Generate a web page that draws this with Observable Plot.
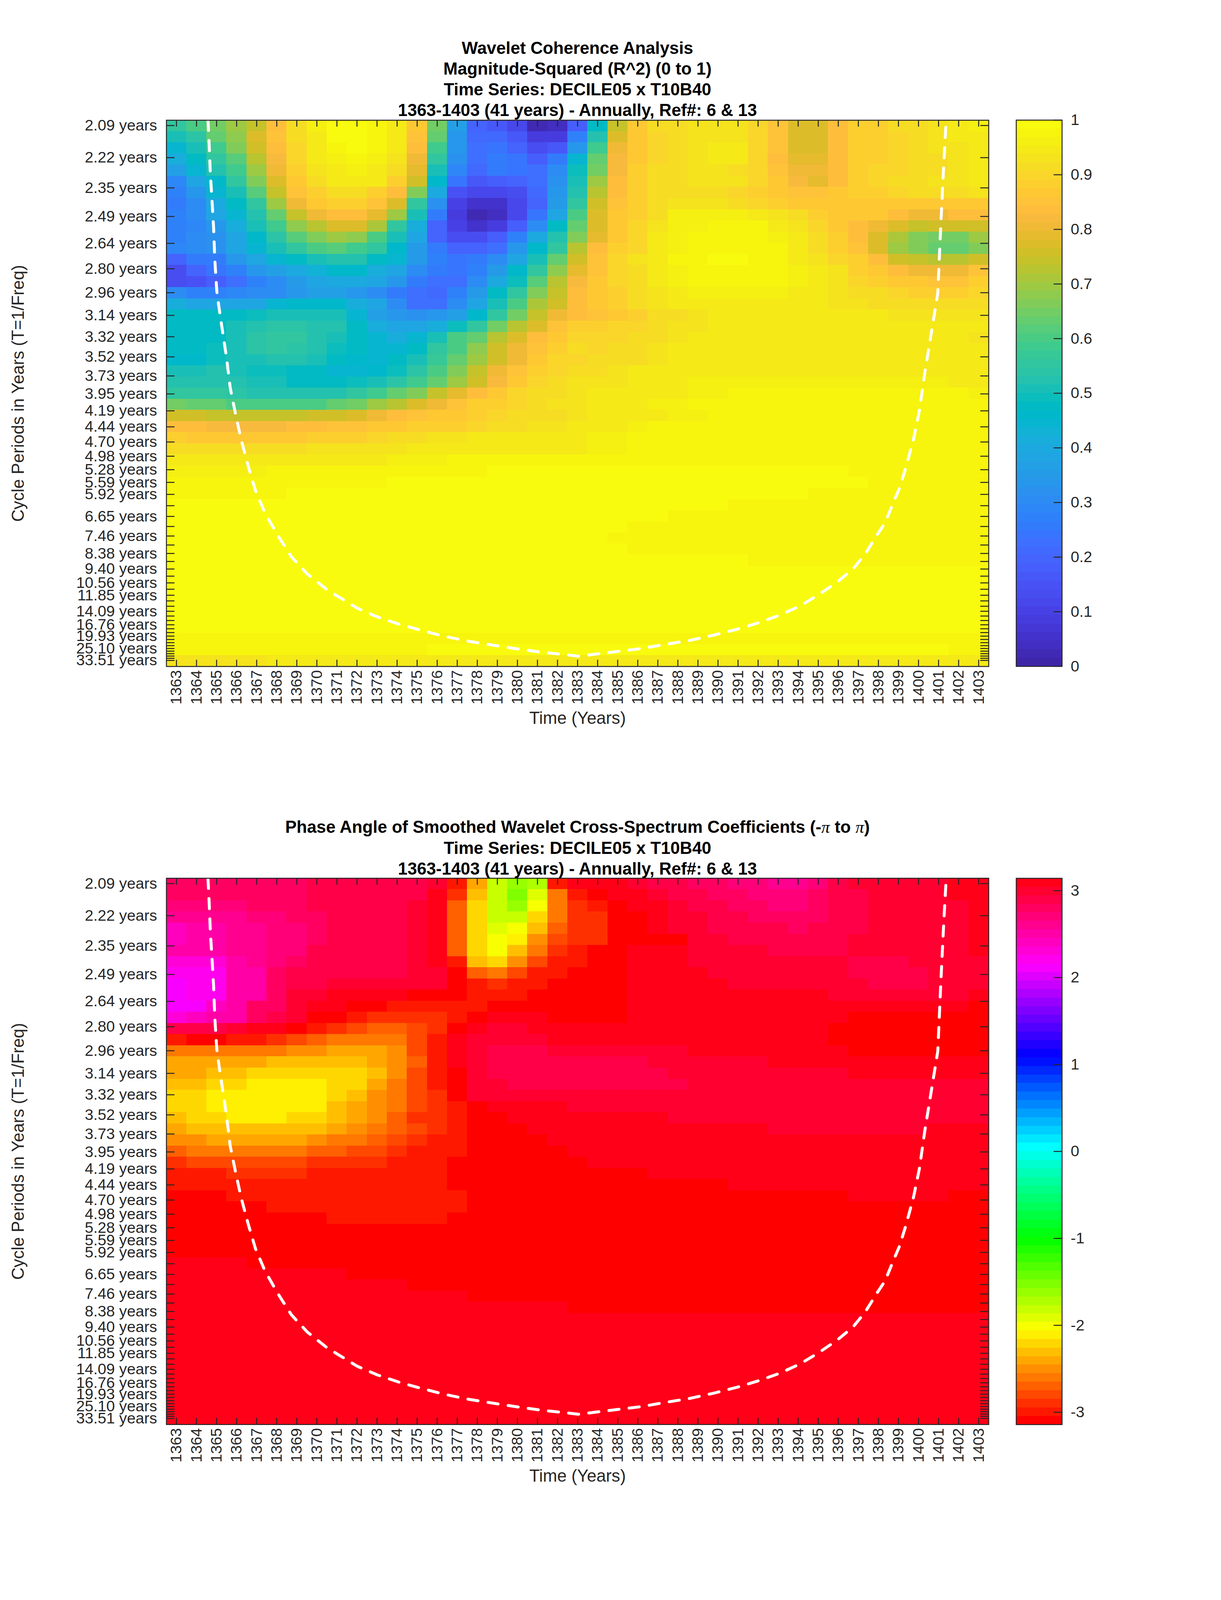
<!DOCTYPE html>
<html>
<head>
<meta charset="utf-8">
<script src="https://cdn.jsdelivr.net/npm/d3@7"></script>
<script src="https://cdn.jsdelivr.net/npm/@observablehq/plot@0.6"></script>
<style>
html,body{margin:0;padding:0;background:#fff}
#page{position:relative;width:3125px;overflow:hidden;font-family:"Liberation Sans",Arial,sans-serif}
#page svg{position:absolute;display:block;background:transparent}
.ttl{position:absolute;left:178px;width:2600px;text-align:center;font-weight:bold;color:#000}
.ttl i{font-family:"Liberation Serif",serif;font-weight:normal;font-style:italic}
</style>
</head>
<body>
<div id="page"></div>
<script>
const years = [1363,1364,1365,1366,1367,1368,1369,1370,1371,1372,1373,1374,1375,1376,1377,1378,1379,1380,1381,1382,1383,1384,1385,1386,1387,1388,1389,1390,1391,1392,1393,1394,1395,1396,1397,1398,1399,1400,1401,1402,1403];
const periodTicks = [2.094,2.219,2.351,2.491,2.639,2.796,2.962,3.138,3.325,3.522,3.732,3.954,4.189,4.438,4.702,4.981,5.278,5.591,5.924,6.276,6.650,7.045,7.464,7.908,8.378,8.876,9.404,9.963,10.555,11.183,11.848,12.552,13.298,14.089,14.927,15.814,16.755,17.751,18.807,19.925,21.110,22.365,23.695,25.104,26.597,28.178,29.854,31.629,33.510];
const shownPeriods = ["2.09","2.22","2.35","2.49","2.64","2.80","2.96","3.14","3.32","3.52","3.73","3.95","4.19","4.44","4.70","4.98","5.28","5.59","5.92","6.65","7.46","8.38","9.40","10.56","11.85","14.09","16.76","19.93","25.10","33.51"];

// cone of influence: year, and position measured in rows from the top of the image
const coiYears = [1364.57,1364.63,1364.69,1364.77,1364.85,1364.91,1365.01,1365.11,1365.25,1365.49,1365.68,1365.94,1366.22,1366.58,1366.94,1367.41,1368.03,1368.73,1369.52,1370.51,1371.11,1372.01,1373.0,1374.09,1375.19,1376.38,1377.57,1378.87,1380.06,1381.25,1382.44,1383.04,1384.95,1386.16,1387.36,1388.57,1389.78,1390.99,1392.0,1393.1,1394.11,1395.02,1395.92,1396.73,1397.33,1397.94,1398.34,1398.74,1399.05,1399.35,1399.75,1400.05,1400.31,1400.65,1400.96,1401.12,1401.26,1401.38];
const coiRows = [0,2.18,4.84,7.14,9.62,12.47,15.32,16.66,18.37,21.23,24.01,26.31,28.62,31.04,33.23,35.21,37.18,39.16,40.70,42.12,42.78,43.77,44.54,45.20,45.75,46.30,46.74,47.11,47.44,47.73,47.95,48.08,47.66,47.40,47.02,46.67,46.19,45.64,45.09,44.39,43.55,42.56,41.46,40.26,38.94,37.18,36.09,34.32,33.01,31.26,28.62,25.99,22.69,18.94,15.52,9.05,3.90,0];

const parula = [[.2422,.1504,.6603],[.2504,.1650,.7076],[.2578,.1818,.7511],[.2647,.1978,.7952],[.2706,.2147,.8364],[.2751,.2342,.8710],[.2783,.2559,.8991],[.2803,.2782,.9221],[.2813,.3006,.9414],[.2810,.3228,.9579],[.2795,.3447,.9717],[.2760,.3667,.9829],[.2699,.3892,.9906],[.2602,.4123,.9952],[.2440,.4358,.9988],[.2206,.4603,.9973],[.1963,.4847,.9892],[.1834,.5074,.9798],[.1786,.5289,.9682],[.1764,.5499,.9520],[.1687,.5703,.9359],[.1540,.5902,.9218],[.1460,.6091,.9079],[.1380,.6276,.8973],[.1248,.6459,.8883],[.1113,.6635,.8763],[.0952,.6798,.8598],[.0689,.6948,.8394],[.0297,.7082,.8163],[.0036,.7203,.7917],[.0067,.7312,.7660],[.0433,.7411,.7394],[.0964,.7500,.7120],[.1408,.7584,.6842],[.1717,.7670,.6554],[.1938,.7758,.6251],[.2161,.7843,.5923],[.2470,.7918,.5567],[.2906,.7973,.5188],[.3406,.8008,.4789],[.3909,.8029,.4354],[.4456,.8024,.3909],[.5044,.7993,.3480],[.5616,.7942,.3045],[.6174,.7876,.2612],[.6720,.7793,.2227],[.7242,.7698,.1910],[.7738,.7598,.1646],[.8203,.7498,.1535],[.8634,.7406,.1596],[.9035,.7330,.1774],[.9393,.7288,.2100],[.9728,.7298,.2394],[.9956,.7434,.2371],[.9970,.7659,.2199],[.9952,.7861,.1963],[.9892,.8137,.1816],[.9786,.8386,.1652],[.9676,.8639,.1408],[.9610,.8890,.1154],[.9597,.9135,.0928],[.9628,.9373,.0689],[.9691,.9606,.0529],[.9763,.9831,.0538]];
const hsv64 = ["#ff0000","#ff1800","#ff3000","#ff4800","#ff6000","#ff7800","#ff8f00","#ffa700","#ffbf00","#ffd700","#ffef00","#f7ff00","#dfff00","#c7ff00","#afff00","#97ff00","#80ff00","#68ff00","#50ff00","#38ff00","#20ff00","#08ff00","#00ff10","#00ff28","#00ff40","#00ff58","#00ff70","#00ff87","#00ff9f","#00ffb7","#00ffcf","#00ffe7","#00ffff","#00e7ff","#00cfff","#00b7ff","#009fff","#0087ff","#0070ff","#0058ff","#0040ff","#0028ff","#0010ff","#0800ff","#2000ff","#3800ff","#5000ff","#6800ff","#8000ff","#9700ff","#af00ff","#c700ff","#df00ff","#f700ff","#ff00ef","#ff00d7","#ff00bf","#ff00a7","#ff008f","#ff0078","#ff0060","#ff0048","#ff0030","#ff0018"];

// coherence R^2 in hundredths, one list per row (top to bottom), one value per year
const coh = [
[55,60,65,69,74,84,91,96,99,99,97,95,86,65,36,19,17,12,3,4,18,47,74,87,91,92,93,93,93,90,85,77,77,83,88,89,91,92,93,94,96],
[50,54,63,68,77,85,91,95,99,99,97,95,85,63,33,21,21,16,8,8,27,53,78,87,90,91,93,93,93,90,85,78,78,84,88,89,90,92,93,94,95],
[45,51,58,66,75,84,90,94,97,99,97,94,84,59,34,22,24,20,13,16,34,59,80,87,90,92,93,94,94,90,85,78,78,84,88,89,90,91,93,93,95],
[41,48,56,61,72,82,90,94,96,97,96,93,81,55,32,22,26,24,18,26,44,63,82,87,90,92,93,94,94,90,84,79,79,84,88,89,90,91,92,93,94],
[36,44,52,59,70,80,88,93,95,96,95,91,79,50,29,21,25,24,22,31,49,65,82,88,91,92,93,93,92,90,85,81,81,84,88,90,90,91,92,93,94],
[29,39,46,55,66,78,87,91,94,95,94,88,76,46,24,17,18,19,22,32,51,70,84,88,91,92,93,93,93,90,87,82,79,84,88,90,91,92,93,93,95],
[27,34,44,51,61,74,85,89,92,92,89,84,67,40,15,12,12,14,21,33,53,73,84,89,91,92,92,92,90,89,87,85,85,86,88,89,90,91,92,92,93],
[26,31,40,47,56,69,81,86,88,88,85,78,56,32,10,5,6,11,20,35,56,76,85,89,91,93,93,93,91,90,88,87,87,87,87,87,87,87,87,87,87],
[28,30,38,45,52,64,74,80,84,84,79,69,50,25,9,3,4,11,24,39,60,78,87,89,91,96,96,96,96,94,93,92,89,87,87,86,84,80,80,83,83],
[28,29,33,42,50,58,68,72,77,78,71,56,42,20,10,6,9,18,30,47,64,78,87,90,93,96,96,98,98,97,95,93,90,87,84,81,78,74,75,75,75],
[28,30,32,38,46,54,62,67,69,68,60,50,38,19,14,13,18,27,40,52,67,79,86,90,94,96,98,98,98,98,96,94,91,88,84,78,71,67,65,65,69],
[29,30,32,38,44,51,55,60,62,59,55,46,35,26,20,20,23,34,46,55,72,83,88,90,94,96,98,98,98,98,97,95,92,89,85,78,70,66,63,63,67],
[20,25,26,33,39,44,47,50,52,52,48,44,35,27,24,25,31,39,51,63,75,85,90,93,95,98,98,99,99,98,97,95,93,90,88,84,76,74,72,72,76],
[13,19,24,28,33,36,40,43,46,46,42,38,31,26,24,28,35,46,56,68,79,85,90,92,94,96,97,97,97,97,97,96,94,93,88,86,83,80,80,80,85],
[14,15,18,23,27,31,35,38,40,40,38,33,25,22,23,30,40,49,61,72,82,86,90,92,94,96,97,97,97,97,97,96,95,93,90,88,87,86,85,85,88],
[31,27,27,29,30,31,33,36,37,34,31,26,22,21,27,35,47,56,66,74,84,86,88,92,93,95,96,96,96,96,96,95,94,93,92,91,90,89,88,89,90],
[41,39,38,38,39,44,46,46,46,41,38,31,23,22,30,39,50,60,71,76,84,86,88,91,93,94,94,94,94,94,94,94,94,93,93,92,92,92,92,92,92],
[48,47,47,48,49,50,51,51,50,44,37,34,32,34,37,46,56,65,74,81,83,85,87,89,91,91,93,94,94,94,94,94,94,94,94,94,93,93,93,93,93],
[47,47,48,50,52,54,54,53,52,47,42,39,38,41,49,56,65,73,78,85,88,88,90,90,92,93,93,94,94,95,95,95,95,95,95,94,94,94,94,94,94],
[47,47,48,51,54,56,56,53,51,47,44,42,44,50,60,64,72,77,83,87,90,90,90,91,92,93,94,95,95,95,95,95,95,95,95,95,95,95,94,94,93],
[47,47,49,51,54,55,54,52,49,47,45,45,48,55,60,68,75,81,85,88,91,90,91,91,93,94,95,95,95,95,95,95,95,95,95,95,95,94,94,94,94],
[46,46,49,50,51,52,52,51,47,46,45,47,50,57,63,70,75,81,87,90,90,91,92,92,93,94,95,95,95,95,95,95,95,95,95,95,95,95,95,94,94],
[50,50,52,51,49,49,47,47,45,45,46,49,54,60,66,74,80,85,89,90,91,92,93,94,94,94,95,95,95,95,95,95,95,95,95,95,95,95,95,95,95],
[53,53,53,52,50,50,48,48,48,49,51,54,58,63,70,76,82,86,90,92,93,93,93,94,95,95,96,96,96,96,96,96,96,96,96,96,96,96,96,95,95],
[55,56,56,54,53,52,52,52,53,55,58,63,67,74,79,84,87,90,91,92,93,94,94,94,95,95,96,96,97,97,97,97,97,97,97,97,97,97,97,97,96],
[65,63,63,60,60,60,60,60,64,65,69,73,77,81,85,88,89,90,92,93,93,94,94,95,96,96,97,97,97,97,97,97,97,97,97,97,97,97,97,97,97],
[76,76,74,74,74,74,74,76,76,78,81,83,85,86,87,88,90,91,91,92,93,94,94,95,95,96,96,97,97,97,97,97,97,97,97,97,97,97,97,97,97],
[84,84,82,82,82,82,84,84,85,85,86,87,88,89,89,90,91,92,93,93,94,95,95,96,97,97,97,97,97,97,97,97,97,97,97,97,97,97,97,97,97],
[89,87,87,87,87,87,87,88,88,89,90,91,91,93,93,94,94,94,94,95,95,96,96,97,97,97,97,97,97,97,97,97,97,97,97,97,97,97,97,97,97],
[91,91,91,91,91,91,91,93,93,93,93,93,94,94,94,95,95,95,95,95,95,96,96,97,97,97,97,97,97,97,97,97,97,97,97,97,97,97,97,97,97],
[94,94,94,94,94,94,94,95,95,95,95,96,96,96,97,97,97,97,97,97,97,97,97,97,97,97,97,97,97,97,97,97,97,97,97,97,97,97,97,97,97],
[96,96,96,96,96,97,97,97,97,97,97,97,97,97,97,97,99,99,99,99,99,99,99,99,99,99,99,99,99,99,99,99,99,99,97,97,97,97,97,97,97],
[97,97,97,97,97,97,97,97,97,97,97,99,99,99,99,99,99,99,99,99,99,99,99,99,99,99,99,99,99,99,99,99,99,99,99,97,97,97,97,97,97],
[97,97,97,97,97,97,99,99,99,99,99,99,99,99,99,99,99,99,99,99,99,99,99,99,99,99,99,99,99,99,99,99,97,97,97,97,97,97,97,97,97],
[99,99,99,99,99,99,99,99,99,99,99,99,99,99,99,99,99,99,99,99,99,99,99,99,99,99,99,99,98,98,98,98,98,98,98,98,98,98,98,98,98],
[99,99,99,99,99,99,99,99,99,99,99,99,99,99,99,99,99,99,99,99,99,99,99,99,99,98,98,98,98,98,98,98,98,98,98,98,98,98,98,98,98],
[99,99,99,99,99,99,99,99,99,99,99,99,99,99,99,99,99,99,99,99,99,99,99,98,98,98,98,98,98,98,98,98,98,98,98,98,98,98,98,98,98],
[99,99,99,99,99,99,99,99,99,99,99,99,99,99,99,99,99,99,99,99,99,99,98,98,98,98,98,98,98,98,98,98,98,98,98,98,98,98,98,98,98],
[99,99,99,99,99,99,99,99,99,99,99,99,99,99,99,99,99,99,99,99,99,99,99,98,98,98,98,98,98,98,98,98,98,98,98,98,98,98,98,98,98],
[99,99,99,99,99,99,99,99,99,99,99,99,99,99,99,99,99,99,99,99,99,99,99,99,99,99,99,99,99,98,98,98,98,98,98,98,98,98,98,98,98],
[99,99,99,99,99,99,99,99,99,99,99,99,99,99,99,99,99,99,99,99,99,99,99,99,99,99,99,99,99,99,99,99,99,99,99,99,99,99,99,99,99],
[99,99,99,99,99,99,99,99,99,99,99,99,99,99,99,99,99,99,99,99,99,99,99,99,99,99,99,99,99,99,99,99,99,99,99,99,99,99,99,99,99],
[99,99,99,99,99,99,99,99,99,99,99,99,99,99,99,99,99,99,99,99,99,99,99,99,99,99,99,99,99,99,99,99,99,99,99,99,99,99,99,99,99],
[99,99,99,99,99,99,99,99,99,99,99,99,99,99,99,99,99,99,99,99,99,99,99,99,99,99,99,99,99,99,99,99,99,99,99,99,99,99,99,99,99],
[99,99,99,99,99,99,99,99,99,99,99,99,99,99,99,99,99,99,99,99,99,99,99,99,99,99,99,99,99,99,99,99,99,99,99,99,99,99,99,99,99],
[99,99,99,99,99,99,99,99,99,99,99,99,99,99,99,99,99,99,99,99,99,99,99,99,99,99,99,99,99,99,99,99,99,99,99,99,99,99,99,99,99],
[98,98,98,98,98,98,98,98,98,98,98,98,98,98,98,98,98,98,98,98,98,98,98,98,98,98,98,98,98,98,98,98,98,98,98,98,98,98,98,98,98],
[97,97,97,97,97,97,97,97,97,97,97,97,97,99,99,99,99,99,99,99,99,99,99,99,99,99,99,99,99,99,99,99,99,99,99,99,99,99,99,97,97],
[93,93,93,93,93,95,95,95,95,95,95,95,95,95,95,95,95,95,95,95,95,95,95,95,95,95,95,95,95,95,95,95,95,95,95,95,95,95,95,95,95]
];

// phase angle in hundredths of a radian, one list per row, one value per year
const pha = [
[280,280,280,280,280,280,280,290,290,290,290,290,290,299,-299,-241,-182,-162,-172,-299,309,309,309,299,290,290,280,280,270,270,260,260,270,290,299,299,299,299,299,309,309],
[280,280,280,280,280,280,280,290,290,290,290,290,290,309,-290,-231,-182,-152,-191,-260,-299,-309,309,309,299,290,290,280,280,270,270,270,280,290,290,299,299,299,299,309,309],
[270,270,270,270,280,280,280,290,290,290,290,290,299,309,-270,-221,-182,-162,-201,-260,-290,-299,-309,309,309,299,290,290,280,280,270,270,280,290,290,299,299,299,299,299,309],
[260,260,260,260,270,270,280,280,290,290,290,290,299,309,-270,-221,-182,-182,-221,-260,-290,-290,-309,-309,309,299,299,290,290,280,280,280,280,290,290,299,299,299,299,299,309],
[241,250,250,260,260,270,270,280,290,290,290,290,299,309,-270,-221,-191,-201,-231,-270,-290,-290,-309,-309,309,299,299,290,290,290,290,280,290,290,290,299,299,299,299,299,309],
[241,250,250,260,260,270,270,280,290,290,290,290,299,309,-270,-221,-201,-211,-250,-280,-290,-290,-309,-309,-309,-309,299,299,290,290,290,290,290,290,299,299,299,299,299,299,309],
[250,250,250,260,260,270,270,290,290,290,290,290,299,309,-270,-221,-201,-231,-260,-290,-299,-309,-309,309,309,309,299,299,299,299,290,290,290,290,299,299,299,299,299,299,309],
[231,231,231,250,260,270,280,290,290,290,290,290,299,309,-299,-231,-221,-250,-280,-299,-299,-309,-309,309,309,309,299,299,299,299,299,299,299,299,290,290,290,299,299,299,299],
[221,221,221,250,250,280,290,290,290,290,290,290,299,299,-309,-270,-260,-280,-299,-299,-309,-309,-309,309,309,309,309,299,299,299,299,299,299,299,290,290,290,290,299,299,299],
[211,221,221,250,250,280,290,290,299,299,299,299,299,299,-309,-299,-290,-299,-299,-309,-309,-309,-309,309,309,309,309,309,299,299,299,299,299,299,299,290,290,290,299,299,299],
[211,221,221,250,250,280,299,299,309,309,309,309,-309,-309,-309,-299,-299,-299,-309,-309,-309,-309,-309,309,309,309,309,309,309,309,309,309,309,299,299,299,299,299,299,299,309],
[211,211,241,250,280,280,299,309,309,-309,-309,-299,-299,-299,-299,-299,-309,-309,-309,-309,-309,-309,-309,309,309,309,309,309,309,309,309,309,309,309,309,309,309,309,309,309,-309],
[231,241,250,250,280,290,299,-309,-309,-299,-290,-290,-290,-290,-299,-309,309,309,309,-309,-309,-309,-309,309,309,309,309,309,309,309,309,309,309,309,-309,-309,-309,-309,-309,-309,-309],
[290,290,290,299,309,309,-309,-299,-290,-280,-270,-270,-280,-290,-309,309,299,299,309,309,309,309,309,309,309,309,309,309,309,309,309,309,309,-309,-309,-309,-309,-309,-309,-309,-309],
[-299,-309,-309,-299,-299,-290,-280,-270,-260,-260,-260,-260,-280,-299,309,299,299,299,299,309,309,309,309,309,309,309,309,309,309,309,309,309,309,-309,-309,-309,-309,-309,-309,-309,-309],
[-260,-260,-260,-260,-260,-260,-250,-250,-241,-241,-241,-250,-280,-299,309,299,290,290,290,299,299,299,299,299,299,299,309,309,309,309,309,309,309,309,-309,-309,-309,-309,-309,-309,-309],
[-241,-241,-241,-241,-241,-231,-231,-231,-231,-231,-241,-250,-270,-299,309,299,290,290,290,290,290,290,290,290,299,299,299,299,299,299,309,309,309,309,309,309,309,309,309,309,309],
[-241,-241,-231,-231,-221,-221,-221,-221,-221,-221,-231,-250,-280,-299,-309,299,290,290,290,290,290,290,290,290,290,299,299,299,299,299,299,299,299,299,309,309,309,309,309,309,309],
[-231,-231,-221,-221,-211,-211,-211,-211,-221,-221,-241,-260,-280,-299,-309,299,299,290,290,290,290,290,290,290,290,290,299,299,299,299,299,299,299,299,299,299,299,299,299,299,299],
[-221,-221,-211,-211,-211,-211,-211,-211,-221,-231,-250,-260,-280,-290,-309,299,299,299,299,299,299,299,299,299,299,299,299,299,299,299,299,299,299,299,299,299,299,299,299,299,299],
[-221,-221,-211,-211,-211,-211,-211,-211,-231,-241,-250,-260,-280,-290,-299,-309,309,309,309,309,299,299,299,299,299,299,299,299,299,299,299,299,299,299,299,299,299,299,299,299,299],
[-231,-221,-221,-211,-211,-211,-221,-221,-231,-241,-250,-270,-290,-290,-299,-309,-309,309,309,309,309,309,309,309,309,299,299,299,299,299,299,299,299,299,299,299,299,299,299,299,299],
[-241,-231,-231,-231,-231,-231,-231,-231,-241,-250,-260,-270,-280,-290,-299,-309,-309,-309,309,309,309,309,309,309,309,309,309,309,309,309,299,299,299,299,299,299,299,299,309,309,309],
[-250,-250,-241,-241,-241,-241,-241,-250,-260,-260,-270,-280,-290,-299,-299,-309,-309,-309,-309,309,309,309,309,309,309,309,309,309,309,309,309,309,309,309,309,309,309,309,309,309,309],
[-270,-260,-260,-260,-260,-260,-260,-270,-270,-280,-280,-290,-299,-299,-299,-309,-309,-309,-309,-309,309,309,309,309,309,309,309,309,309,309,309,309,309,309,309,309,309,309,309,309,309],
[-290,-280,-280,-280,-280,-280,-280,-290,-290,-290,-290,-299,-299,-299,-309,-309,-309,-309,-309,-309,-309,309,309,309,309,309,309,309,309,309,309,309,309,309,309,309,309,309,309,309,309],
[-299,-299,-299,-290,-290,-290,-290,-299,-299,-299,-299,-299,-299,-299,-309,-309,-309,-309,-309,-309,-309,-309,-309,-309,309,309,309,309,309,309,309,309,309,309,309,309,309,309,309,309,309],
[-299,-299,-299,-299,-299,-299,-299,-299,-299,-299,-299,-299,-299,-299,-309,-309,-309,-309,-309,-309,-309,-309,-309,-309,-309,-309,-309,-309,309,309,309,309,309,309,309,309,309,309,309,309,309],
[-309,-309,-309,-299,-299,-299,-299,-299,-299,-299,-299,-299,-299,-299,-299,-309,-309,-309,-309,-309,-309,-309,-309,-309,-309,-309,-309,-309,-309,-309,-309,-309,-309,-309,309,309,309,309,309,-309,-309],
[-309,-309,-309,-309,-309,-299,-299,-299,-299,-299,-299,-299,-299,-299,-299,-309,-309,-309,-309,-309,-309,-309,-309,-309,-309,-309,-309,-309,-309,-309,-309,-309,-309,-309,-309,-309,-309,-309,-309,-309,-309],
[-309,-309,-309,-309,-309,-309,-309,-309,-299,-299,-299,-299,-299,-299,-309,-309,-309,-309,-309,-309,-309,-309,-309,-309,-309,-309,-309,-309,-309,-309,-309,-309,-309,-309,-309,-309,-309,-309,-309,-309,-309],
[-309,-309,-309,-309,-309,-309,-309,-309,-309,-309,-309,-309,-309,-309,-309,-309,-309,-309,-309,-309,-309,-309,-309,-309,-309,-309,-309,-309,-309,-309,-309,-309,-309,-309,-309,-309,-309,-309,-309,-309,-309],
[-309,-309,-309,-309,-309,-309,-309,-309,-309,-309,-309,-309,-309,-309,-309,-309,-309,-309,-309,-309,-309,-309,-309,-309,-309,-309,-309,-309,-309,-309,-309,-309,-309,-309,-309,-309,-309,-309,-309,-309,-309],
[-309,-309,-309,-309,-309,-309,-309,-309,-309,-309,-309,-309,-309,-309,-309,-309,-309,-309,-309,-309,-309,-309,-309,-309,-309,-309,-309,-309,-309,-309,-309,-309,-309,-309,-309,-309,-309,-309,-309,-309,-309],
[309,309,309,309,-309,-309,-309,-309,-309,-309,-309,-309,-309,-309,-309,-309,-309,-309,-309,-309,-309,-309,-309,-309,-309,-309,-309,-309,-309,-309,-309,-309,-309,-309,-309,-309,-309,-309,-309,-309,-309],
[309,309,309,309,309,309,309,309,309,-309,-309,-309,-309,-309,-309,-309,-309,-309,-309,-309,-309,-309,-309,-309,-309,-309,-309,-309,-309,-309,-309,-309,-309,-309,-309,-309,-309,-309,-309,-309,-309],
[309,309,309,309,309,309,309,309,309,309,309,309,-309,-309,-309,-309,-309,-309,-309,-309,-309,-309,-309,-309,-309,-309,-309,-309,-309,-309,-309,-309,-309,-309,-309,-309,-309,-309,-309,-309,-309],
[309,309,309,309,309,309,309,309,309,309,309,309,309,309,309,-309,-309,-309,-309,-309,-309,-309,-309,-309,-309,-309,-309,-309,-309,-309,-309,-309,-309,-309,-309,-309,-309,-309,-309,-309,-309],
[309,309,309,309,309,309,309,309,309,309,309,309,309,309,309,309,309,309,309,309,-309,-309,-309,-309,-309,-309,-309,-309,-309,-309,-309,-309,-309,-309,-309,-309,-309,-309,-309,-309,-309],
[309,309,309,309,309,309,309,309,309,309,309,309,309,309,309,309,309,309,309,309,309,309,309,309,309,309,309,309,309,309,309,309,309,309,309,309,309,309,309,309,309],
[309,309,309,309,309,309,309,309,309,309,309,309,309,309,309,309,309,309,309,309,309,309,309,309,309,309,309,309,309,309,309,309,309,309,309,309,309,309,309,309,309],
[309,309,309,309,309,309,309,309,309,309,309,309,309,309,309,309,309,309,309,309,309,309,309,309,309,309,309,309,309,309,309,309,309,309,309,309,309,309,309,309,309],
[309,309,309,309,309,309,309,309,309,309,309,309,309,309,309,309,309,309,309,309,309,309,309,309,309,309,309,309,309,309,309,309,309,309,309,309,309,309,309,309,309],
[309,309,309,309,309,309,309,309,309,309,309,309,309,309,309,309,309,309,309,309,309,309,309,309,309,309,309,309,309,309,309,309,309,309,309,309,309,309,309,309,309],
[309,309,309,309,309,309,309,309,309,309,309,309,309,309,309,309,309,309,309,309,309,309,309,309,309,309,309,309,309,309,309,309,309,309,309,309,309,309,309,309,309],
[309,309,309,309,309,309,309,309,309,309,309,309,309,309,309,309,309,309,309,309,309,309,309,309,309,309,309,309,309,309,309,309,309,309,309,309,309,309,309,309,309],
[309,309,309,309,309,309,309,309,309,309,309,309,309,309,309,309,309,309,309,309,309,309,309,309,309,309,309,309,309,309,309,309,309,309,309,309,309,309,309,309,309],
[309,309,309,309,309,309,309,309,309,309,309,309,309,309,309,309,309,309,309,309,309,309,309,309,309,309,309,309,309,309,309,309,309,309,309,309,309,309,309,309,309],
[309,309,309,309,309,309,309,309,309,309,309,309,309,309,309,309,309,309,309,309,309,309,309,309,309,309,309,309,309,309,309,309,309,309,309,309,309,309,309,309,309]
];

const TXT = "#262626";
const FONT = '"Liberation Sans",Arial,sans-serif';
const fTop = 0.48198, fBottom = 0.02478;
const rowStep = (fTop - fBottom) / 49;
const page = document.getElementById("page");

// The window can be shorter than the 6252 px asked for: fit the page height to it so both panels are seen.
const k = Math.min(1, window.innerHeight / 6252);
const fk = Math.pow(k, 0.9);
const tickFont = 58 * fk, titleFont = 64 * fk;
const PLOT_W = 2104.5, PLOT_H = 2134.5 * k, LEFT = 425.5;
page.style.height = (6252 * k) + "px";

const shownFreqs = shownPeriods.map(s => 1 / d3.least(periodTicks, t => Math.abs(t - +s)));
const freqLabel = new Map(shownFreqs.map((f, i) => [f, shownPeriods[i] + " years"]));
const coi = coiYears.map((year, i) => ({year, freq: fTop - coiRows[i] * rowStep}));

function toCells(matrix, scale) {
  const out = [];
  matrix.forEach((row, r) => row.forEach((v, c) => out.push({
    x1: years[c] - .5, x2: years[c] + .5,
    y1: fTop - r * rowStep, y2: fTop - (r + 1) * rowStep,
    v: v * scale
  })));
  return out;
}

function heat(top, cells, colorScale) {
  const tickX = 0.41, tickY = 0.0055;
  const bottom = 330 * k;
  const svg = Plot.plot({
    width: 2560, height: top + PLOT_H + bottom,
    marginLeft: LEFT, marginRight: 2560 - LEFT - PLOT_W, marginTop: top, marginBottom: bottom,
    style: {fontFamily: FONT, fontSize: tickFont + "px", color: TXT, background: "transparent", overflow: "visible"},
    x: {domain: [1362.5, 1403.5], label: null},
    y: {domain: [fBottom, fTop], label: null},
    color: colorScale,
    marks: [
      Plot.rect(cells, {x1: "x1", x2: "x2", y1: "y1", y2: "y2", fill: "v", shapeRendering: "crispEdges"}),
      Plot.line(coi, {x: "year", y: "freq", stroke: "white", strokeWidth: 7.5, strokeDasharray: "26 26", clip: true}),
      Plot.ruleY(periodTicks.map(t => 1 / t), {x1: 1362.5, x2: 1362.5 + tickX, stroke: TXT, strokeWidth: 2.5}),
      Plot.ruleY(periodTicks.map(t => 1 / t), {x1: 1403.5, x2: 1403.5 - tickX, stroke: TXT, strokeWidth: 2.5}),
      Plot.ruleX(years, {y1: fBottom, y2: fBottom + tickY, stroke: TXT, strokeWidth: 2.5}),
      Plot.ruleX(years, {y1: fTop, y2: fTop - tickY, stroke: TXT, strokeWidth: 2.5}),
      Plot.frame({stroke: TXT, strokeWidth: 2.5}),
      Plot.axisY({ticks: shownFreqs, tickFormat: d => freqLabel.get(d), tickSize: 0, tickPadding: 24, anchor: "left", label: null, fill: TXT, fontSize: tickFont}),
      Plot.axisX({ticks: years, tickFormat: d => String(d), tickSize: 0, tickPadding: 14 * k, tickRotate: -90, anchor: "bottom", label: null, fill: TXT, fontSize: tickFont}),
      Plot.text(["Time (Years)"], {frameAnchor: "bottom", dy: 202 * k, lineAnchor: "middle", textAnchor: "middle", fontSize: titleFont, fill: TXT}),
      Plot.text(["Cycle Periods in Years (T=1/Freq)"], {frameAnchor: "left", dx: -379, rotate: -90, lineAnchor: "middle", textAnchor: "middle", fontSize: titleFont, fill: TXT})
    ]
  });
  svg.style.left = "0px"; svg.style.top = "0px";
  page.appendChild(svg);
}

function colorbar(top, lo, hi, colors, ticks) {
  const n = colors.length, h = (hi - lo) / n;
  const bands = colors.map((_, i) => ({y1: lo + i * h, y2: lo + (i + 1) * h, v: lo + (i + .5) * h}));
  const svg = Plot.plot({
    width: 420, height: PLOT_H + 80,
    marginLeft: 40.5, marginRight: 420 - 40.5 - 117.2, marginTop: 40, marginBottom: 40,
    style: {fontFamily: FONT, fontSize: tickFont + "px", color: TXT, background: "transparent", overflow: "visible"},
    x: {domain: [0, 1], axis: null},
    y: {domain: [lo, hi], label: null},
    color: {type: "threshold", domain: d3.range(1, n).map(i => lo + i * h), range: colors},
    marks: [
      Plot.rect(bands, {x1: 0, x2: 1, y1: "y1", y2: "y2", fill: "v", shapeRendering: "crispEdges"}),
      Plot.ruleY(ticks, {x1: 1, x2: 0.82, stroke: TXT, strokeWidth: 2.5}),
      Plot.frame({stroke: TXT, strokeWidth: 2.5}),
      Plot.axisY({ticks, tickFormat: d => String(d), tickSize: 0, tickPadding: 22, anchor: "right", label: null, fill: TXT, fontSize: tickFont})
    ]
  });
  svg.style.left = "2560px"; svg.style.top = (top - 40) + "px";
  page.appendChild(svg);
}

function title(top, html) {
  const d = document.createElement("div");
  d.className = "ttl"; d.style.top = top + "px"; d.style.fontSize = titleFont + "px"; d.style.lineHeight = (81 * k) + "px"; d.innerHTML = html;
  page.appendChild(d);
}

const parulaColors = parula.map(([r, g, b]) => d3.rgb(r * 255, g * 255, b * 255).formatHex());
const cohThresh = d3.range(1, 64).map(i => i / 64);
const phaThresh = d3.range(1, 64).map(i => -Math.PI + 2 * Math.PI * i / 64);

heat(469 * k, toCells(coh, 0.01), {type: "threshold", domain: cohThresh, range: parulaColors});
colorbar(469 * k, 0, 1, parulaColors, [0, .1, .2, .3, .4, .5, .6, .7, .8, .9, 1]);
title(146.5 * k, "Wavelet Coherence Analysis<br>Magnitude-Squared (R^2) (0 to 1)<br>Time Series: DECILE05 x T10B40<br>1363-1403 (41 years) - Annually, Ref#: 6 &amp; 13");

heat(3431 * k, toCells(pha, 0.01), {type: "threshold", domain: phaThresh, range: hsv64});
colorbar(3431 * k, -Math.PI, Math.PI, hsv64, [-3, -2, -1, 0, 1, 2, 3]);
title(3189.5 * k, "Phase Angle of Smoothed Wavelet Cross-Spectrum Coefficients (-<i>π</i> to <i>π</i>)<br>Time Series: DECILE05 x T10B40<br>1363-1403 (41 years) - Annually, Ref#: 6 &amp; 13");
</script>
</body>
</html>
